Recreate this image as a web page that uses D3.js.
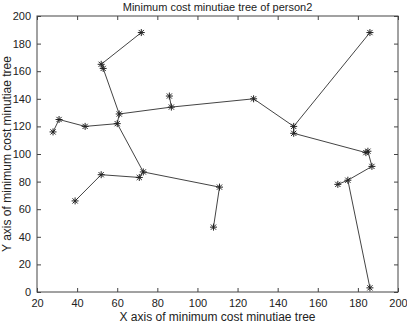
<!DOCTYPE html>
<html>
<head>
<meta charset="utf-8">
<script src="https://cdn.jsdelivr.net/npm/d3@7"></script>
<style>
  body { margin: 0; background: #fff; }
  text { font-family: "Liberation Sans", Arial, sans-serif; }
</style>
</head>
<body>
<div id="chart"></div>
<script>
// minutiae points (x, y)
var pointX = [72, 52, 53, 61, 60, 44, 31, 28, 73, 71, 52, 39, 111, 108, 86, 87, 128, 148, 148, 186, 184, 185, 187, 175, 170, 186];
var pointY = [188, 165, 162, 129, 122, 120, 125, 116, 87, 83, 85, 66, 76, 47, 142, 134, 140, 120, 115, 188, 101, 102, 91, 81, 78, 3];
// tree edges, as index pairs into the point arrays
var edgeFrom = [0, 1, 2, 3, 3, 15, 15, 16, 19, 17, 18, 20, 21, 22, 23, 23, 4, 5, 6, 4, 8, 9, 10, 8, 12];
var edgeTo   = [1, 2, 3, 4, 15, 14, 16, 17, 17, 18, 20, 21, 22, 23, 24, 25, 5, 6, 7, 8, 9, 10, 11, 12, 13];
var xTicks = [20, 40, 60, 80, 100, 120, 140, 160, 180, 200];
var yTicks = [0, 20, 40, 60, 80, 100, 120, 140, 160, 180, 200];

var W = 407, H = 324;
var margin = { top: 16, right: 9, bottom: 32, left: 37 },
    width = W - margin.left - margin.right,
    height = H - margin.top - margin.bottom;

var svg = d3.select("#chart")
    .append("svg")
    .attr("width", W)
    .attr("height", H);

var g = svg.append("g")
    .attr("transform", "translate(" + margin.left + "," + margin.top + ")");

var x = d3.scaleLinear().domain([20, 200]).range([0, width]);
var y = d3.scaleLinear().domain([0, 200]).range([height, 0]);

// axes with inward ticks, box style
function styleAxis(sel) {
    sel.select(".domain").remove();
    sel.selectAll("line").attr("stroke", "#444");
    sel.selectAll("text").style("font-size", "11px").attr("fill", "#222");
}

g.append("g")
    .attr("transform", "translate(0," + height + ")")
    .call(d3.axisBottom(x).tickValues(xTicks).tickSizeInner(-4).tickSizeOuter(0).tickPadding(7))
    .call(styleAxis);

g.append("g")
    .call(d3.axisTop(x).tickValues(xTicks).tickSizeInner(-4).tickSizeOuter(0).tickFormat(""))
    .call(styleAxis);

g.append("g")
    .call(d3.axisLeft(y).tickValues(yTicks).tickSizeInner(-4).tickSizeOuter(0).tickPadding(6))
    .call(styleAxis);

g.append("g")
    .attr("transform", "translate(" + width + ",0)")
    .call(d3.axisRight(y).tickValues(yTicks).tickSizeInner(-4).tickSizeOuter(0).tickFormat(""))
    .call(styleAxis);

g.append("rect")
    .attr("width", width)
    .attr("height", height)
    .attr("fill", "none")
    .attr("stroke", "#444")
    .attr("stroke-width", 1);

// edges
g.selectAll(".edge")
    .data(edgeFrom.map(function (f, i) { return [f, edgeTo[i]]; }))
    .enter()
    .append("line")
    .attr("class", "edge")
    .attr("x1", function (d) { return x(pointX[d[0]]); })
    .attr("y1", function (d) { return y(pointY[d[0]]); })
    .attr("x2", function (d) { return x(pointX[d[1]]); })
    .attr("y2", function (d) { return y(pointY[d[1]]); })
    .attr("stroke", "#444")
    .attr("stroke-width", 1);

// asterisk markers
var r = 3.5, rd = 2.6;
var star = "M" + (-r) + ",0L" + r + ",0M0," + (-r) + "L0," + r +
    "M" + (-rd) + "," + (-rd) + "L" + rd + "," + rd +
    "M" + (-rd) + "," + rd + "L" + rd + "," + (-rd);

g.selectAll(".pt")
    .data(pointX.map(function (v, i) { return [v, pointY[i]]; }))
    .enter()
    .append("path")
    .attr("class", "pt")
    .attr("d", star)
    .attr("transform", function (d) { return "translate(" + x(d[0]) + "," + y(d[1]) + ")"; })
    .attr("stroke", "#222")
    .attr("stroke-width", 1)
    .attr("fill", "none");

// title and axis labels
svg.append("text")
    .attr("x", margin.left + width / 2)
    .attr("y", 11)
    .attr("text-anchor", "middle")
    .style("font-size", "11px")
    .attr("fill", "#222")
    .text("Minimum cost minutiae tree of person2");

svg.append("text")
    .attr("x", margin.left + width / 2)
    .attr("y", 321)
    .attr("text-anchor", "middle")
    .style("font-size", "12px")
    .attr("fill", "#222")
    .text("X axis of minimum cost minutiae tree");

svg.append("text")
    .attr("transform", "translate(11," + (margin.top + height / 2) + ") rotate(-90)")
    .attr("text-anchor", "middle")
    .style("font-size", "12px")
    .attr("fill", "#222")
    .text("Y axis of minimum cost minutiae tree");
</script>
</body>
</html>
